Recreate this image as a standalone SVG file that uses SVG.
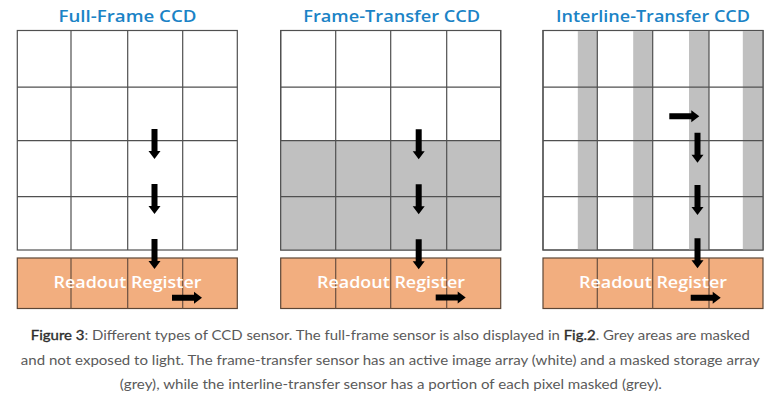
<svg xmlns="http://www.w3.org/2000/svg" xmlns:xlink="http://www.w3.org/1999/xlink" width="780" height="401" viewBox="0 0 780 401">
<style>
.title{font-family:"Open Sans","Liberation Sans",sans-serif;font-weight:600;font-size:17px;fill:#1b83c6;text-anchor:middle}
.cell{fill:#ffffff;stroke:#505050;stroke-width:1.2}
.grey{fill:#c0c0c0}
.gline{stroke:#505050;stroke-width:1.2;fill:none}
.reg{fill:#f2ae7f;stroke:#5c4636;stroke-width:1.2}
.rline{stroke:#6a5040;stroke-width:1.2}
.regtxt{font-family:"Open Sans","Liberation Sans",sans-serif;font-weight:600;font-size:16.5px;fill:#ffffff;text-anchor:middle}
.cap{font-family:Lato,"Liberation Sans",sans-serif;font-size:13px;fill:#5a5a5a;text-anchor:middle}
.capb{fill:#2e2e2e;stroke:#2e2e2e;stroke-width:0.35}
.arrow{fill:#000000}
</style>
<defs>
<path id="adown" class="arrow" d="M-3,0 H3 V22 H6 L0,30 L-6,22 H-3 Z"/>
<path id="aright" class="arrow" d="M0,-3 V3 H22 V6 L30,0 L22,-6 V-3 Z"/>
</defs>

<g id="full-frame">
<text class="title" x="127.5" y="21.7" textLength="138" lengthAdjust="spacingAndGlyphs">Full-Frame CCD</text>
<rect class="cell" x="17.3" y="30.5" width="220" height="219.5"/>
<path class="gline" d="M71,30.5 V250 M127.7,30.5 V250 M182.7,30.5 V250 M17.3,87.2 H237.3 M17.3,140.7 H237.3 M17.3,196.7 H237.3"/>
<rect class="reg" x="17.3" y="258" width="220" height="50.5"/>
<path class="rline" d="M71,258 V308.5 M127.7,258 V308.5 M182.7,258 V308.5"/>
<text class="regtxt" x="127.5" y="288.3" textLength="148" lengthAdjust="spacingAndGlyphs">Readout Register</text>
</g>

<g id="frame-transfer">
<text class="title" x="391.7" y="21.7" textLength="177" lengthAdjust="spacingAndGlyphs">Frame-Transfer CCD</text>
<rect class="cell" x="280.7" y="30.5" width="220" height="219.5"/>
<rect class="grey" x="280.7" y="140.7" width="220" height="109.3"/>
<path class="gline" d="M280.7,30.5 H500.7 V250 H280.7 Z M335.7,30.5 V250 M390.7,30.5 V250 M446.7,30.5 V250 M280.7,87.2 H500.7 M280.7,140.7 H500.7 M280.7,196.7 H500.7"/>
<rect class="reg" x="280.7" y="258" width="220" height="50.5"/>
<path class="rline" d="M335.7,258 V308.5 M390.7,258 V308.5 M446.7,258 V308.5"/>
<text class="regtxt" x="391" y="288.3" textLength="148" lengthAdjust="spacingAndGlyphs">Readout Register</text>
</g>

<g id="interline-transfer">
<text class="title" x="653" y="21.7" textLength="194" lengthAdjust="spacingAndGlyphs">Interline-Transfer CCD</text>
<rect class="cell" x="543" y="30.5" width="220" height="219.5"/>
<rect class="grey" x="577.8" y="30.5" width="19.5" height="219.5"/>
<rect class="grey" x="633.2" y="30.5" width="19.5" height="219.5"/>
<rect class="grey" x="689" y="30.5" width="20" height="219.5"/>
<rect class="grey" x="742.8" y="30.5" width="20.2" height="219.5"/>
<path class="gline" d="M543,30.5 H763 V250 H543 Z M597.3,30.5 V250 M652.7,30.5 V250 M709,30.5 V250 M543,87.2 H763 M543,140.7 H763 M543,196.7 H763"/>
<rect class="reg" x="543" y="258" width="220" height="50.5"/>
<path class="rline" d="M597.3,258 V308.5 M652.7,258 V308.5 M709,258 V308.5"/>
<text class="regtxt" x="653" y="288.3" textLength="148" lengthAdjust="spacingAndGlyphs">Readout Register</text>
</g>

<g id="connectors">
<use xlink:href="#adown" x="154.5" y="129"/>
<use xlink:href="#adown" x="154.5" y="184"/>
<use xlink:href="#adown" x="154.5" y="239"/>
<use xlink:href="#aright" x="172" y="297.7"/>
<use xlink:href="#adown" x="418.7" y="129.3"/>
<use xlink:href="#adown" x="418.7" y="184.3"/>
<use xlink:href="#adown" x="418.7" y="239.3"/>
<use xlink:href="#aright" x="435.7" y="297.5"/>
<use xlink:href="#aright" x="669.3" y="116.3"/>
<use xlink:href="#adown" x="697.5" y="132.7"/>
<use xlink:href="#adown" x="697.5" y="185"/>
<use xlink:href="#adown" x="697.5" y="238.3"/>
<use xlink:href="#aright" x="690.7" y="297.7"/>
</g>

<g id="caption">
<text class="cap" x="390.3" y="340" textLength="719" lengthAdjust="spacingAndGlyphs"><tspan class="capb">Figure 3</tspan>: Different types of CCD sensor. The full-frame sensor is also displayed in <tspan class="capb">Fig.2</tspan>. Grey areas are masked</text>
<text class="cap" x="390.3" y="364.5" textLength="739" lengthAdjust="spacingAndGlyphs">and not exposed to light. The frame-transfer sensor has an active image array (white) and a masked storage array</text>
<text class="cap" x="390.8" y="388.5" textLength="542" lengthAdjust="spacingAndGlyphs">(grey), while the interline-transfer sensor has a portion of each pixel masked (grey).</text>
</g>
</svg>
